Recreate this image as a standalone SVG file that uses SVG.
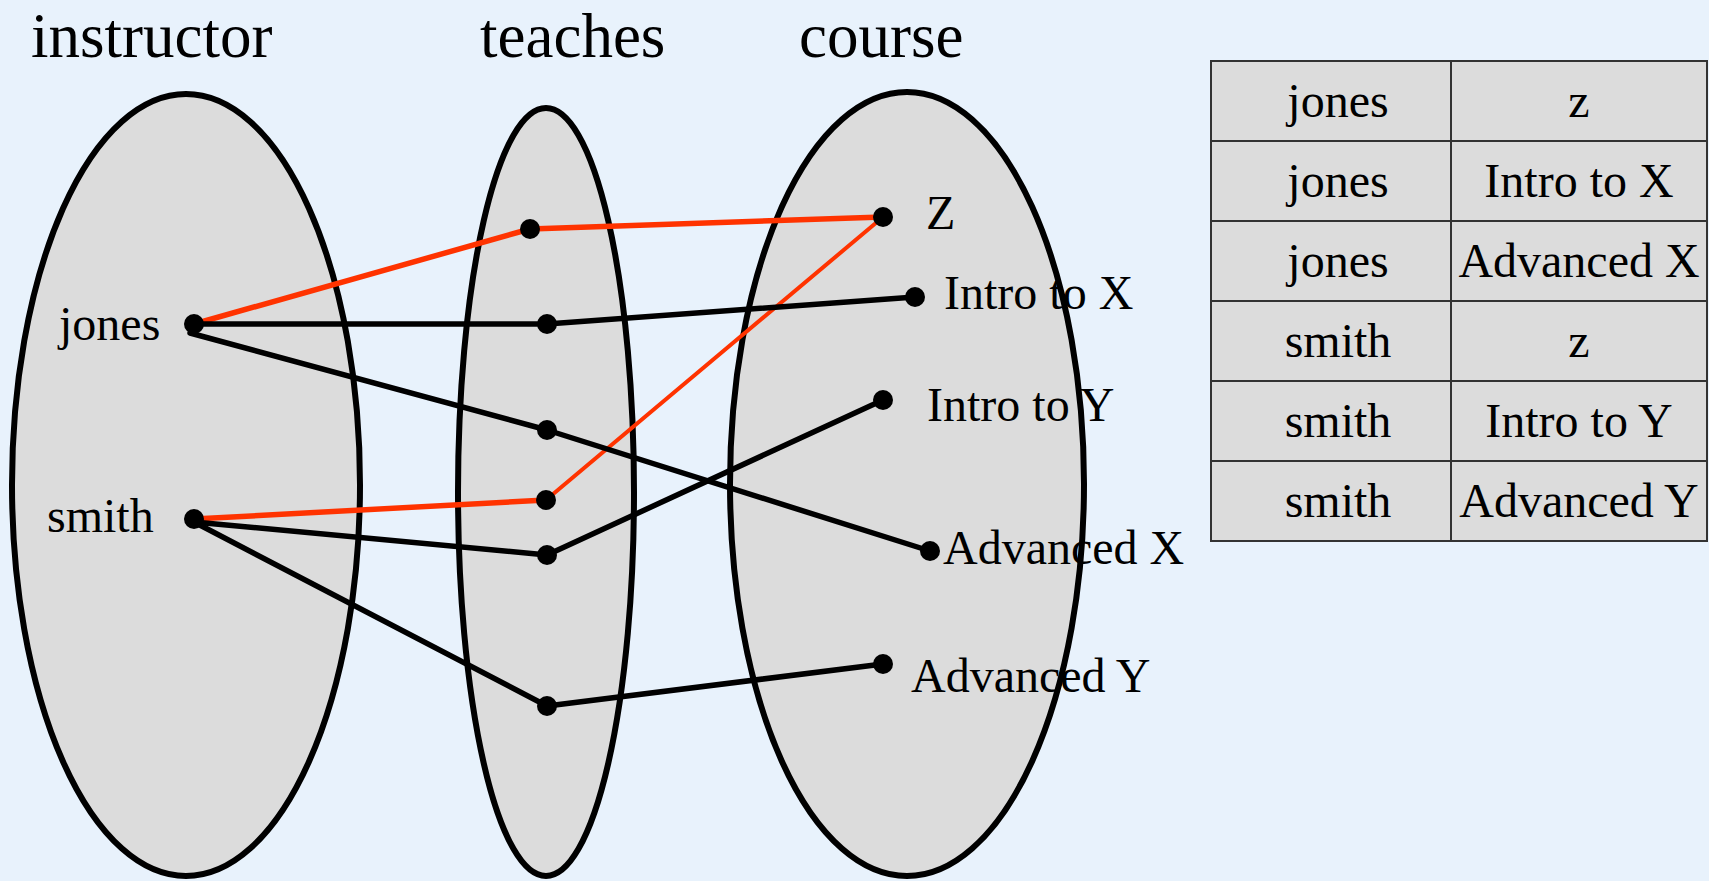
<svg xmlns="http://www.w3.org/2000/svg" width="1709" height="881" viewBox="0 0 1709 881" font-family="'Liberation Serif', Tinos, 'Times New Roman', 'Nimbus Roman', 'DejaVu Serif', serif">
<style>
.set{fill:#dcdcdc;stroke:#000;stroke-width:6}
.t{font-family:'Liberation Serif', Tinos, 'Times New Roman', 'Nimbus Roman', 'DejaVu Serif', serif;font-size:48px;fill:#000}
.title{font-family:'Liberation Serif', Tinos, 'Times New Roman', 'Nimbus Roman', 'DejaVu Serif', serif;font-size:63px;fill:#000}
.blk{stroke:#000;stroke-width:5.5;fill:none;stroke-linecap:round}
.red{stroke:#ff3300;stroke-width:5.5;fill:none;stroke-linecap:round}
.dot{fill:#000}
.cell{fill:#dcdcdc;stroke:#333;stroke-width:2}
.c{text-anchor:middle}
</style>
<rect width="1709" height="881" fill="#e8f2fc"/>
<g id="titles">
<text class="title" x="31" y="57">instructor</text>
<text class="title" x="480" y="57">teaches</text>
<text class="title" x="799" y="57">course</text>
</g>
<g id="instructor-set"><ellipse class="set" cx="186" cy="485" rx="174" ry="391"/></g>
<g id="teaches-set"><ellipse class="set" cx="546" cy="492" rx="88" ry="384"/></g>
<g id="course-set"><ellipse class="set" cx="907" cy="484" rx="177" ry="392"/></g>
<g id="connectors">
<line class="red" x1="194" y1="324" x2="530" y2="229"/>
<line class="red" x1="530" y1="229" x2="883" y2="217"/>
<line class="red" x1="194" y1="519" x2="546" y2="500"/>
<line class="red" x1="546" y1="500" x2="883" y2="217" style="stroke-width:4"/>
<line class="blk" x1="194" y1="324" x2="547" y2="324"/>
<line class="blk" x1="547" y1="324" x2="915" y2="297"/>
<line class="blk" x1="190" y1="333" x2="547" y2="430"/>
<line class="blk" x1="547" y1="430" x2="930" y2="551"/>
<line class="blk" x1="194" y1="522" x2="547" y2="555"/>
<line class="blk" x1="547" y1="555" x2="883" y2="400"/>
<line class="blk" x1="194" y1="522" x2="547" y2="706"/>
<line class="blk" x1="547" y1="706" x2="883" y2="664"/>
</g>
<g id="jones"><circle class="dot" cx="194" cy="324" r="10"/><text class="t" x="59" y="340">jones</text></g>
<g id="smith"><circle class="dot" cx="194" cy="519" r="10"/><text class="t" x="47" y="532">smith</text></g>
<g id="teaches-1"><circle class="dot" cx="530" cy="229" r="10"/></g>
<g id="teaches-2"><circle class="dot" cx="547" cy="324" r="10"/></g>
<g id="teaches-3"><circle class="dot" cx="547" cy="430" r="10"/></g>
<g id="teaches-4"><circle class="dot" cx="546" cy="500" r="10"/></g>
<g id="teaches-5"><circle class="dot" cx="547" cy="555" r="10"/></g>
<g id="teaches-6"><circle class="dot" cx="547" cy="706" r="10"/></g>
<g id="course-z"><circle class="dot" cx="883" cy="217" r="10"/><text class="t" x="926" y="229">Z</text></g>
<g id="course-intro-x"><circle class="dot" cx="915" cy="297" r="10"/><text class="t" x="944" y="309">Intro to X</text></g>
<g id="course-intro-y"><circle class="dot" cx="883" cy="400" r="10"/><text class="t" x="927" y="421">Intro to Y</text></g>
<g id="course-adv-x"><circle class="dot" cx="930" cy="551" r="10"/><text class="t" x="943" y="564">Advanced X</text></g>
<g id="course-adv-y"><circle class="dot" cx="883" cy="664" r="10"/><text class="t" x="911" y="692">Advanced Y</text></g>
<g id="table">
<rect class="cell" x="1211" y="61" width="240" height="80"/><rect class="cell" x="1451" y="61" width="256" height="80"/>
<rect class="cell" x="1211" y="141" width="240" height="80"/><rect class="cell" x="1451" y="141" width="256" height="80"/>
<rect class="cell" x="1211" y="221" width="240" height="80"/><rect class="cell" x="1451" y="221" width="256" height="80"/>
<rect class="cell" x="1211" y="301" width="240" height="80"/><rect class="cell" x="1451" y="301" width="256" height="80"/>
<rect class="cell" x="1211" y="381" width="240" height="80"/><rect class="cell" x="1451" y="381" width="256" height="80"/>
<rect class="cell" x="1211" y="461" width="240" height="80"/><rect class="cell" x="1451" y="461" width="256" height="80"/>
<text class="t c" x="1338" y="117">jones</text><text class="t c" x="1579" y="117">z</text>
<text class="t c" x="1338" y="197">jones</text><text class="t c" x="1579" y="197">Intro to X</text>
<text class="t c" x="1338" y="277">jones</text><text class="t c" x="1579" y="277">Advanced X</text>
<text class="t c" x="1338" y="357">smith</text><text class="t c" x="1579" y="357">z</text>
<text class="t c" x="1338" y="437">smith</text><text class="t c" x="1579" y="437">Intro to Y</text>
<text class="t c" x="1338" y="517">smith</text><text class="t c" x="1579" y="517">Advanced Y</text>
</g>
</svg>
